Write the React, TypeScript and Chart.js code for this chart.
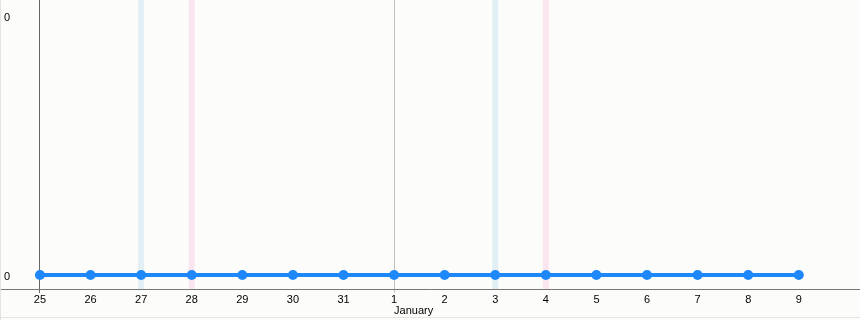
import React, { useEffect, useRef } from "react";
import { Chart, registerables } from "chart.js";

Chart.register(...registerables);

const dayLabels = ["25", "26", "27", "28", "29", "30", "31", "1", "2", "3", "4", "5", "6", "7", "8", "9"];
const seriesValues = [0, 0, 0, 0, 0, 0, 0, 0, 0, 0, 0, 0, 0, 0, 0, 0];
const yTickValues = [0, 0.9418];
const yTickLabels = ["0", "0"];
const saturdays = [2, 9];
const sundays = [3, 10];
const monthLabels = [{ index: 7, text: "January" }];

const bgPlugin = {
  id: "bgPlugin",
  beforeDraw(chart: any) {
    const { ctx, width, height } = chart;
    ctx.save();
    ctx.fillStyle = "#fcfdfa";
    ctx.fillRect(0, 0, width, height);
    const xs = chart.scales.x;
    const area = chart.chartArea;
    const band = (idx: number[], color: string) => {
      ctx.fillStyle = color;
      idx.forEach((i) => {
        const px = xs.getPixelForValue(i);
        ctx.fillRect(px - 3, area.top, 6, area.bottom - area.top);
      });
    };
    band(saturdays, "#e2eff4");
    band(sundays, "#fbe6ef");
    ctx.restore();
  },
  afterDraw(chart: any) {
    const { ctx, width, height } = chart;
    const xs = chart.scales.x;
    ctx.save();
    ctx.fillStyle = "#000";
    ctx.font = "11px 'Liberation Sans', Arial, sans-serif";
    ctx.textAlign = "left";
    ctx.textBaseline = "middle";
    monthLabels.forEach((m) => {
      ctx.fillText(m.text, xs.getPixelForValue(m.index), 311);
    });
    ctx.strokeStyle = "#e4e4e4";
    ctx.lineWidth = 1;
    ctx.beginPath();
    ctx.moveTo(0.5, 0);
    ctx.lineTo(0.5, height);
    ctx.moveTo(0, height - 2.5);
    ctx.lineTo(width, height - 2.5);
    ctx.stroke();
    ctx.restore();
  },
};

const zeroPad = (scale: any) => {
  scale.paddingTop = 0;
  scale.paddingBottom = 0;
  scale.paddingLeft = 0;
  scale.paddingRight = 0;
};

export default function App() {
  const ref = useRef<HTMLCanvasElement | null>(null);
  useEffect(() => {
    document.body.style.margin = "0";
    const canvas = ref.current;
    if (!canvas) return;
    const chart = new Chart(canvas, {
      type: "line",
      data: {
        datasets: [
          {
            data: seriesValues.map((v, i) => ({ x: i, y: v })),
            borderColor: "#1e88fa",
            backgroundColor: "#1e88fa",
            borderWidth: 4,
            pointRadius: 5,
            pointBackgroundColor: "#1e88fa",
            pointBorderWidth: 0,
            fill: false,
          },
        ],
      },
      options: {
        responsive: false,
        animation: false,
        events: [],
        layout: { padding: 0, autoPadding: false },
        plugins: { legend: { display: false }, tooltip: { enabled: false } },
        scales: {
          x: {
            type: "linear",
            min: -0.79,
            max: 16.21,
            afterBuildTicks: (scale: any) => {
              scale.ticks = dayLabels.map((_, i) => ({ value: i }));
            },
            afterFit: (scale: any) => {
              scale.height = 31;
              zeroPad(scale);
            },
            ticks: {
              autoSkip: false,
              maxRotation: 0,
              padding: 0,
              color: "#000",
              font: { family: "'Liberation Sans', Arial, sans-serif", size: 11 },
              callback: (_v: any, i: number) => dayLabels[i],
            },
            grid: {
              drawOnChartArea: true,
              tickLength: 4,
              color: (c: any) => (c.index === 0 ? "#666" : c.index === 7 ? "#c0c0c0" : "rgba(0,0,0,0)"),
              lineWidth: 1,
            },
            border: { display: true, color: "#777", width: 1 },
          },
          y: {
            type: "linear",
            min: -0.0509,
            max: 1,
            afterBuildTicks: (scale: any) => {
              scale.ticks = yTickValues.map((v) => ({ value: v }));
            },
            afterFit: (scale: any) => {
              scale.width = 0;
              zeroPad(scale);
            },
            ticks: {
              mirror: true,
              padding: 4,
              color: "#000",
              font: { family: "'Liberation Sans', Arial, sans-serif", size: 11, lineHeight: 0.3 },
              callback: (_v: any, i: number) => ["", yTickLabels[i]],
            },
            grid: { display: false },
            border: { display: false },
          },
        },
      },
      plugins: [bgPlugin],
    });
    return () => chart.destroy();
  }, []);
  return (
    <div style={{ position: "absolute", left: 0, top: 0, width: 860, height: 320 }}>
      <canvas ref={ref} width={860} height={320} />
    </div>
  );
}
